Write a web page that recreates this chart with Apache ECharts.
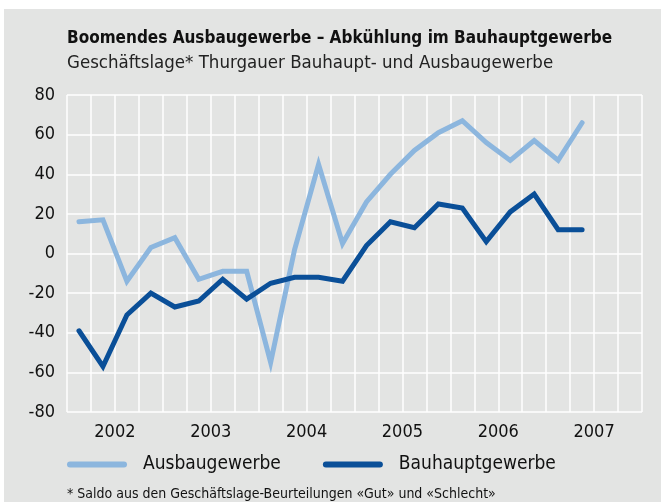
<!DOCTYPE html>
<html>
<head>
<meta charset="utf-8">
<script src="https://cdn.jsdelivr.net/npm/echarts@6/dist/echarts.min.js"></script>
<style>
  html, body { margin: 0; padding: 0; background: #fff; }
  #main { width: 661px; height: 502px; }
</style>
</head>
<body>
<div id="main"></div>
<script>
  // Quartale 2002 - 2007
  var years = ['2002', '2003', '2004', '2005', '2006', '2007']
  var quarters = []
  years.forEach(function (y) {
    for (var q = 1; q <= 4; q++) quarters.push('Q' + q + ' ' + y)
  })
  // Saldo Geschäftslage, Q1 2002 bis Q2 2007
  var ausbau = [16, 17, -14, 3, 8, -13, -9, -9, -55, 2, 45, 5, 26, 40, 52, 61, 67, 56, 47, 57, 47, 66]
  var bauhaupt = [-39, -57, -31, -20, -27, -24, -13, -23, -15, -12, -12, -14, 4, 16, 13, 25, 23, 6, 21, 30, 12, 12]

  var font = '"DejaVu Sans Condensed", "Liberation Sans Narrow", sans-serif'
  var lightBlue = '#8cb6de'
  var darkBlue = '#0a4f98'
  var grid = '#ffffff'

  var chart = echarts.init(document.getElementById('main'))
  var option = {
    animation: false,
    textStyle: { fontFamily: font },
    title: {
      left: 62,
      top: 25,
      itemGap: 7,
      text: 'Boomendes Ausbaugewerbe – Abkühlung im Bauhauptgewerbe',
      subtext: 'Geschäftslage* Thurgauer Bauhaupt- und Ausbaugewerbe',
      textStyle: { fontFamily: font, fontSize: 17, fontWeight: 'bold', color: '#111' },
      subtextStyle: { fontFamily: font, fontSize: 18.5, color: '#222' }
    },
    legend: {
      left: 62,
      top: 450,
      itemWidth: 60,
      itemHeight: 6,
      itemGap: 42,
      icon: 'path://M3,0 H57 A3,3 0 0 1 57,6 H3 A3,3 0 0 1 3,0 Z',
      textStyle: { fontFamily: font, fontSize: 19, color: '#111', padding: [0, 0, 0, 11] },
      data: ['Ausbaugewerbe', 'Bauhauptgewerbe']
    },
    graphic: [
      {
        type: 'rect', z: -100, silent: true,
        shape: { x: 4, y: 9, width: 657, height: 493 },
        style: { fill: '#e3e4e3' }
      },
      {
        type: 'text', left: 67, top: 487,
        style: {
          text: '* Saldo aus den Geschäftslage-Beurteilungen «Gut» und «Schlecht»',
          font: '14px ' + font, fill: '#111'
        }
      }
    ],
    grid: { left: 67, top: 95, width: 575, height: 317, containLabel: false },
    xAxis: [
      {
        type: 'category', data: quarters, boundaryGap: true,
        axisLine: { show: false }, axisTick: { show: false, interval: 0 },
        axisLabel: { show: false, interval: 0 },
        splitLine: { show: true, interval: 0, lineStyle: { color: grid, width: 1.5 } }
      },
      {
        type: 'category', data: years, boundaryGap: true, position: 'bottom',
        axisLine: { show: false }, axisTick: { show: false },
        axisLabel: { fontFamily: font, fontSize: 18, color: '#111', margin: 11 },
        splitLine: { show: false }
      }
    ],
    yAxis: {
      type: 'value', min: -80, max: 80, interval: 20,
      axisLine: { show: false }, axisTick: { show: false },
      axisLabel: { fontFamily: font, fontSize: 18, color: '#111', margin: 12 },
      splitLine: { show: true, lineStyle: { color: grid, width: 1.5 } }
    },
    series: [
      {
        name: 'Ausbaugewerbe', type: 'line', xAxisIndex: 0, data: ausbau,
        symbol: 'none', color: lightBlue,
        lineStyle: { width: 5, color: lightBlue, cap: 'round', join: 'miter' }
      },
      {
        name: 'Bauhauptgewerbe', type: 'line', xAxisIndex: 0, data: bauhaupt,
        symbol: 'none', color: darkBlue,
        lineStyle: { width: 5, color: darkBlue, cap: 'round', join: 'miter' }
      }
    ]
  }
  chart.setOption(option)
</script>
</body>
</html>
